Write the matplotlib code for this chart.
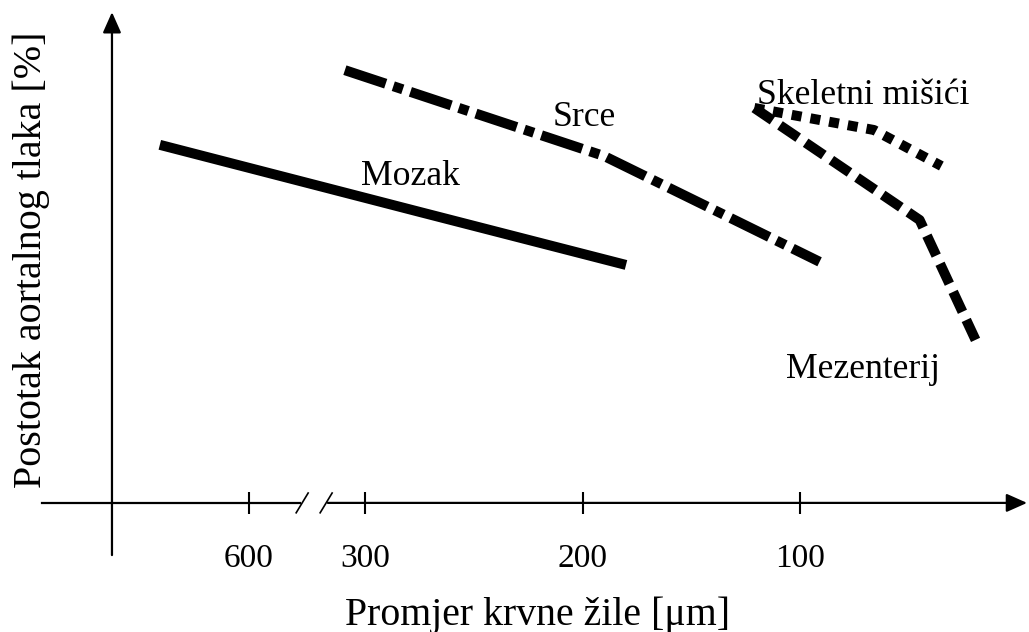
import numpy as np
import matplotlib
matplotlib.use('Agg')
import matplotlib.pyplot as plt

plt.rcParams['font.family'] = ['Liberation Serif', 'DejaVu Serif']

## data: vessel diameter [um] vs. percent of aortic pressure
mozak_d = [641, 275, 180]
mozak_p = [79.6, 64.7, 52.9]

srce_d = [352, 190, 128, 91]
srce_p = [96.2, 77.1, 62.4, 53.6]

skelet_d = [121, 66, 35]
skelet_p = [87.8, 82.9, 74.9]

mezent_d = [121, 45, 18]
mezent_p = [87.8, 62.9, 34.9]

tick_vals = [600, 300, 200, 100]
tick_labels = ['600', '300', '200', '100']


## broken x axis: 600 -> 300 is squeezed, everything else linear
def pos(d):
    d = np.asarray(d, dtype=float)
    return np.where(d <= 300, 1017.5 - 2.175 * d,
                    np.where(d <= 600, 365 - (d - 300) * 116 / 300.,
                             249 - 2.175 * (d - 600)))

def dia(p):
    p = np.asarray(p, dtype=float)
    return np.where(p >= 365, (1017.5 - p) / 2.175,
                    np.where(p >= 249, 300 + (365 - p) * 300 / 116.,
                             600 + (249 - p) / 2.175))

forward = lambda d: -pos(d)
inverse = lambda q: dia(-np.asarray(q, dtype=float))


fig = plt.figure(figsize=(10.29, 6.32), dpi=100)
ax = fig.add_axes([0, 0, 1, 1])
ax.set_xscale('function', functions=(forward, inverse))
ax.set_xlim(float(dia(0)), float(dia(1029)))
ax.set_ylim(-28.7, 111.8)

lw = 7.2
ax.plot(mozak_d, mozak_p, color='black', lw=lw, solid_capstyle='butt')
ax.plot(srce_d, srce_p, color='black', lw=lw, dashes=(4.3, 0.8, 1.0, 0.8))
ax.plot(skelet_d, skelet_p, color='black', lw=lw, dashes=(1, 0.9))
ax.plot(mezent_d, mezent_p, color='black', lw=lw, dashes=(2.2, 0.9))

fs = 25.7
ax.text(279, 70.7, 'Mozak', fontsize=fs, ha='center', va='baseline')
ax.text(199, 83.8, 'Srce', fontsize=fs, ha='center', va='baseline')
ax.text(71, 88.7, 'Skeletni mišići', fontsize=fs, ha='center', va='baseline')
ax.text(71, 27.8, 'Mezenterij', fontsize=fs, ha='center', va='baseline')

## axes drawn by hand (arrows + break)
for s in ax.spines.values():
    s.set_color('none')
ax.spines['bottom'].set_position(('data', 0))
ax.set_xticks(tick_vals)
ax.set_xticklabels(tick_labels)
ax.minorticks_off()
ax.set_yticks([])
ax.tick_params(axis='x', direction='inout', length=16, width=1.5,
               pad=21, labelsize=24, color='black')

arrow = dict(arrowstyle='-|>,head_length=0.9,head_width=0.4',
             mutation_scale=14, lw=1.6, color='black', shrinkA=0, shrinkB=0)
ax.plot([695, 468], [0, 0], color='black', lw=1.6)
ax.annotate('', xy=(-4.4, 0), xytext=(396, 0), arrowprops=arrow)
ax.annotate('', xy=(663, 109.1), xytext=(663, -11.6), arrowprops=arrow)
ax.plot([478, 447], [-2.2, 2.2], color='black', lw=1.2)
ax.plot([416, 385], [-2.2, 2.2], color='black', lw=1.2)

ax.set_xlabel('Promjer krvne žile [μm]', fontsize=28.6, va='baseline')
ax.xaxis.set_label_coords(538 / 1029., (632 - 625) / 632.)
ax.set_ylabel('Postotak aortalnog tlaka [%]', fontsize=28.8, va='center')
ax.yaxis.set_label_coords(31 / 1029., (632 - 260) / 632.)

plt.savefig('out.png', dpi=100)
